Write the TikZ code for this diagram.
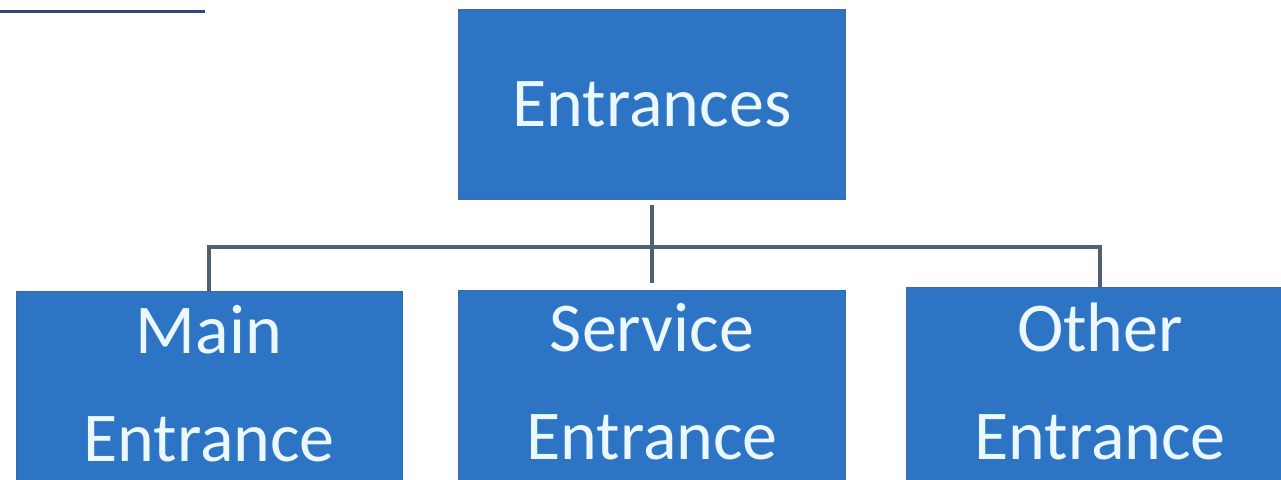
\documentclass[tikz,border=0pt]{standalone}
\usepackage{fontspec}
\setmainfont{Carlito}
\definecolor{boxblue}{RGB}{46,116,197}
\definecolor{boxedge}{RGB}{60,105,170}
\definecolor{txt}{RGB}{236,248,255}
\definecolor{conn}{RGB}{78,96,114}
\definecolor{uline}{RGB}{52,70,122}
\tikzset{
  orgbox/.style={rectangle, fill=boxblue, draw=boxedge, line width=1pt, inner sep=0pt},
  lbl/.style={text=txt, font=\fontsize{70}{82}\selectfont, inner sep=0pt},
  link/.style={draw=conn, line width=4pt}
}
\begin{document}
\begin{tikzpicture}[x=1pt,y=-1pt]
\useasboundingbox (0,0) rectangle (1281,479);
\clip (0,0) rectangle (1281,479);
\fill[white] (0,0) rectangle (1281,479);
% underline fragment at top left
\coordinate (ulA) at (0,11);
\coordinate (ulB) at (205,11);
\draw[uline, line width=3pt] (ulA) -- (ulB);
% boxes
\node[orgbox, minimum width=387pt, minimum height=190pt] (top) at (652,104) {};
\node[orgbox, minimum width=386pt, minimum height=200pt, anchor=north] (main) at (209,291) {};
\node[orgbox, minimum width=387pt, minimum height=200pt, anchor=north] (service) at (652,290) {};
\node[orgbox, minimum width=387pt, minimum height=200pt, anchor=north] (other) at (1100,287) {};
% texts
\node[lbl] (topT) at (top.center) {Entrances};
\node[lbl, anchor=base] (mainA) at (209,353) {Main};
\node[lbl, anchor=base] (mainB) at (209,461) {Entrance};
\node[lbl, anchor=base] (servA) at (652,351) {Service};
\node[lbl, anchor=base] (servB) at (652,459) {Entrance};
\node[lbl, anchor=base] (othA) at (1100,351) {Other};
\node[lbl, anchor=base] (othB) at (1100,459) {Entrance};
% connectors
\coordinate (bus) at (652,247);
\draw[link, shorten <=5pt, shorten >=7pt] (top.south) -- (service.north);
\draw[link] (main.north) |- (bus) -| (other.north);
\end{tikzpicture}
\end{document}
